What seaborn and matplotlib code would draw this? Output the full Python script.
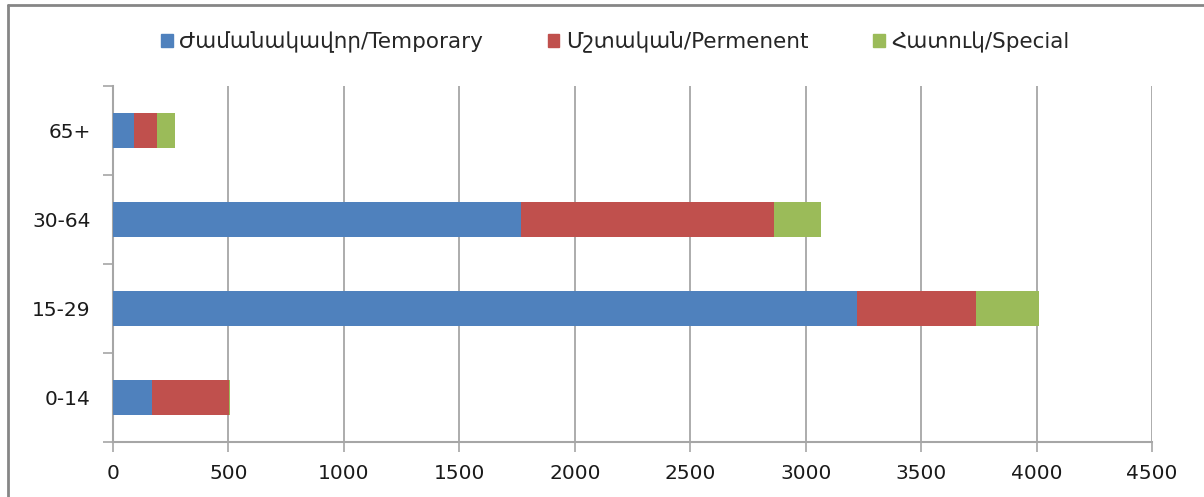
import matplotlib
matplotlib.use('Agg')
import matplotlib.pyplot as plt
import matplotlib.patches as mpatches
import seaborn as sns
import pandas as pd
import numpy as np

# Տվյալներ / data
age_groups = ['65+', '30-64', '15-29', '0-14']
temporary = [90, 1766, 3224, 168]
permanent = [99, 1097, 514, 336]
special = [78, 203, 272, 4]

labels = ['Ժամանակավոր/Temporary', 'Մշտական/Permenent', 'Հատուկ/Special']
colors = ['#4F81BD', '#C0504D', '#9BBB59']

df = pd.DataFrame({'age': age_groups, 'temporary': temporary,
                   'permanent': permanent, 'special': special})
df['cum1'] = df['temporary']
df['cum2'] = df['temporary'] + df['permanent']
df['cum3'] = df['cum2'] + df['special']

sns.set_style('white')
plt.rcParams['font.family'] = ['DejaVu Sans']

fig = plt.figure(figsize=(12.04, 4.97), dpi=100)
ax = fig.add_axes([113 / 1204, 1 - 442 / 497, (1152 - 113) / 1204, (442 - 86) / 497])

# stacked bars: draw the totals first, then the smaller parts on top
for col, c in zip(['cum3', 'cum2', 'cum1'], colors[::-1]):
    sns.barplot(data=df, x=col, y='age', order=age_groups, orient='h',
                color=c, width=0.4, saturation=1, linewidth=0,
                edgecolor='none', ax=ax, zorder=3)

ax.set_xlim(0, 4500)
ax.set_ylim(3.5, -0.5)
ax.set_xticks(np.arange(0, 4501, 500))
ax.set_xlabel('')
ax.set_ylabel('')

grid_c = '#A6A6A6'
ax.grid(axis='x', color=grid_c, linewidth=1.3, zorder=0)
ax.grid(axis='y', visible=False)
for s in ['top', 'right']:
    ax.spines[s].set_visible(False)
for s in ['left', 'bottom']:
    ax.spines[s].set_color(grid_c)
    ax.spines[s].set_linewidth(1.5)

ax.tick_params(axis='x', length=7, width=1.2, color=grid_c, direction='out',
               labelsize=14.5, pad=9, bottom=True, labelcolor='#1a1a1a')
ax.tick_params(axis='y', which='major', length=0, labelsize=14.5, pad=16,
               labelcolor='#1a1a1a')
ax.set_yticks(np.arange(-0.5, 3.6, 1), minor=True)
ax.tick_params(axis='y', which='minor', length=7, width=1.2, color=grid_c,
               direction='out', left=True)

handles = [mpatches.Patch(color=c, label=l) for c, l in zip(colors, labels)]
fig.legend(handles=handles, loc='center', bbox_to_anchor=(0.511, 1 - 42 / 497),
           ncol=3, frameon=False, fontsize=15.5, handlelength=0.55,
           handleheight=0.55, handletextpad=0.3, columnspacing=3.0)

# chart frame (only top and left edges are visible)
fig.add_artist(plt.Line2D([8 / 1204, 8 / 1204], [0, 1 - 5 / 497],
                          transform=fig.transFigure, color='#868686', lw=2))
fig.add_artist(plt.Line2D([8 / 1204, 1], [1 - 5 / 497, 1 - 5 / 497],
                          transform=fig.transFigure, color='#868686', lw=2))

fig.savefig('out.png', dpi=100)
